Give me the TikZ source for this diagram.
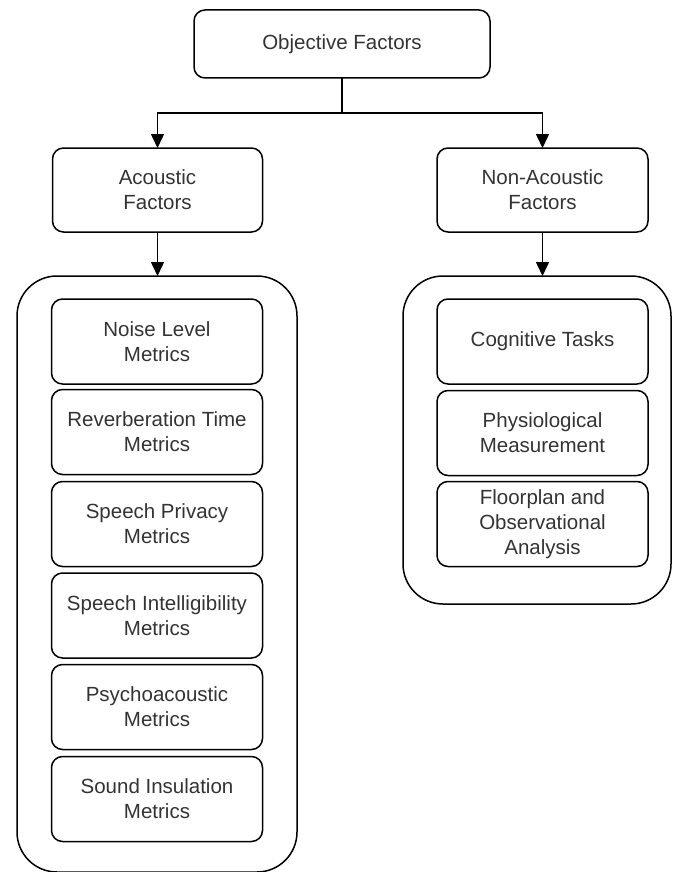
\documentclass[tikz,border=0pt]{standalone}
\usepackage{fontspec}
\setmainfont{Liberation Sans}
\usetikzlibrary{arrows.meta}
\definecolor{txt}{HTML}{333333}
\begin{document}
\begin{tikzpicture}[x=1pt,y=-1pt,
  box/.style={draw, line width=1.5pt, rounded corners=11pt, align=center, inner sep=0pt, outer sep=0pt,
    text=txt, font=\fontsize{20.5pt}{25pt}\selectfont},
  cont/.style={draw, line width=1.5pt, rounded corners=40pt, inner sep=0pt, outer sep=0pt},
  arr/.style={line width=1.5pt, -{Triangle[length=14pt,width=13pt]}},
  ln/.style={line width=1.5pt}]
\useasboundingbox (0,0) rectangle (672,872);
\node[box, minimum width=296pt, minimum height=68pt] (obj) at (342,44) {Objective Factors};
\node[box, minimum width=210pt, minimum height=84pt] (ac) at (157.5,190) {Acoustic\\Factors};
\node[box, minimum width=211pt, minimum height=84pt] (nac) at (542.5,190) {Non-Acoustic\\Factors};
\node[cont, minimum width=280pt, minimum height=596pt] (lc) at (157,574) {};
\node[cont, minimum width=268pt, minimum height=328pt] (rc) at (537,440) {};
\foreach \n/\y/\t in {l1/341.5/{Noise Level\\Metrics}, l2/432/{Reverberation Time\\Metrics}, l3/524/{Speech Privacy\\Metrics}, l4/615.5/{Speech Intelligibility\\Metrics}, l5/707/{Psychoacoustic\\Metrics}, l6/799/{Sound Insulation\\Metrics}}
  \node[box, minimum width=211pt, minimum height=85pt] (\n) at (157,\y) {\t};
\foreach \n/\y/\t in {r1/341.5/{Cognitive Tasks}, r2/433/{Physiological\\Measurement}, r3/524/{Floorplan and\\Observational\\Analysis}}
  \node[box, minimum width=211pt, minimum height=85pt] (\n) at (542.5,\y) {\t};
\coordinate (j) at (342,113);
\draw[ln] (obj.south) -- (j);
\draw[arr] (j) -| (ac.north);
\draw[arr] (j) -| (nac.north);
\draw[arr] (ac.south) -- (ac.south |- lc.north);
\draw[arr] (nac.south) -- (nac.south |- rc.north);
\end{tikzpicture}
\end{document}
